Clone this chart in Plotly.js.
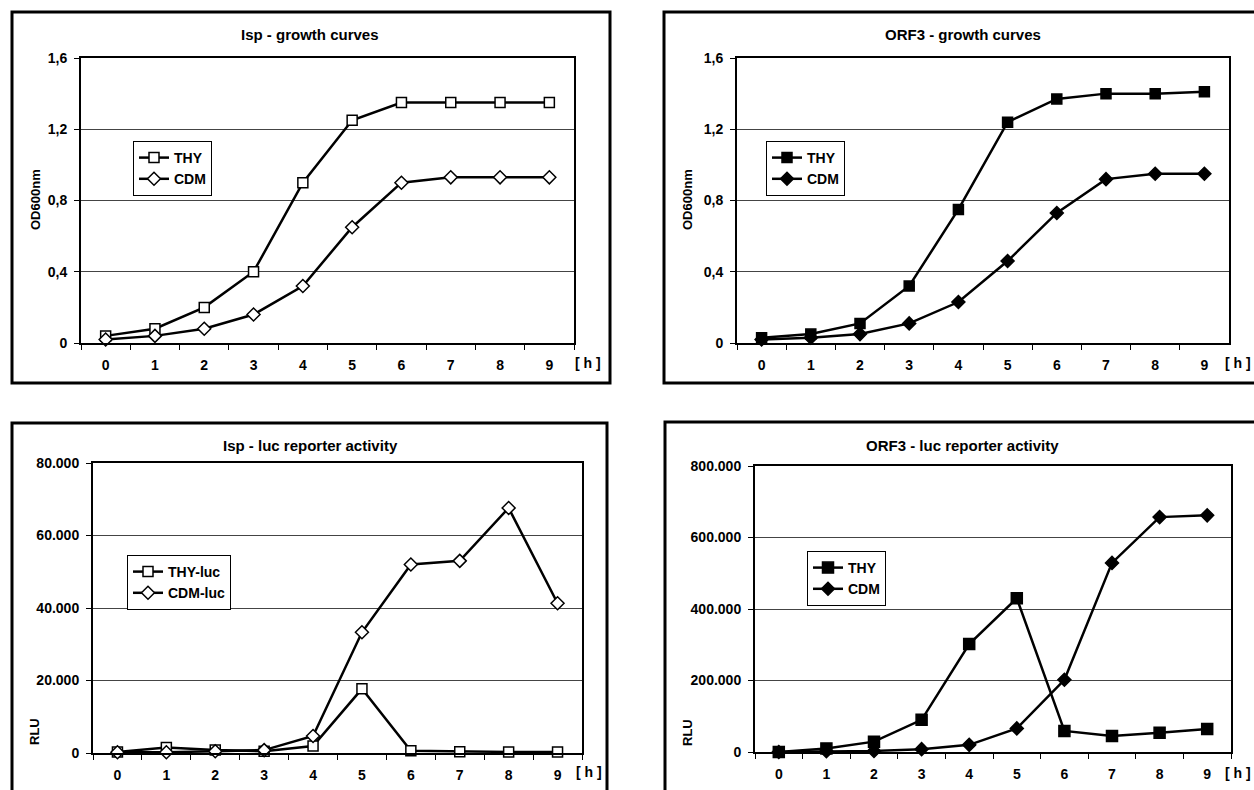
<!DOCTYPE html>
<html>
<head>
<meta charset="utf-8">
<script src="https://cdn.plot.ly/plotly-3.0.1.min.js"></script>
<style>
  html, body { margin: 0; padding: 0; background: #ffffff; }
  #chart { width: 1254px; height: 790px; }
</style>
</head>
<body>
<div id="chart"></div>
<script>
// ---------- DATA ----------
const hours = ['0', '1', '2', '3', '4', '5', '6', '7', '8', '9'];

// Isp - growth curves (OD600nm)
const ispGrowthTHY = [0.04, 0.08, 0.20, 0.40, 0.90, 1.25, 1.35, 1.35, 1.35, 1.35];
const ispGrowthCDM = [0.02, 0.04, 0.08, 0.16, 0.32, 0.65, 0.90, 0.93, 0.93, 0.93];

// ORF3 - growth curves (OD600nm)
const orf3GrowthTHY = [0.03, 0.05, 0.11, 0.32, 0.75, 1.24, 1.37, 1.40, 1.40, 1.41];
const orf3GrowthCDM = [0.02, 0.03, 0.05, 0.11, 0.23, 0.46, 0.73, 0.92, 0.95, 0.95];

// Isp - luc reporter activity (RLU)
const ispLucTHY = [300, 1500, 800, 500, 1900, 17700, 600, 350, 300, 300];
const ispLucCDM = [200, 200, 500, 800, 4700, 33300, 52000, 53000, 67600, 41300];

// ORF3 - luc reporter activity (RLU)
const orf3LucTHY = [0, 10000, 29000, 90000, 302000, 430000, 59000, 45000, 54000, 64000];
const orf3LucCDM = [0, 2000, 3000, 8000, 20000, 66000, 202000, 529000, 657000, 662000];

const panelTitles = ['Isp - growth curves', 'ORF3 - growth curves',
                     'Isp - luc reporter activity', 'ORF3 - luc reporter activity'];
const growthYLabel = 'OD600nm';
const lucYLabel = 'RLU';
const hourUnit = '[ h ]';

// ---------- STYLE HELPERS ----------
const W = 1254, H = 790;
const px = x => x / W;
const py = y => 1 - y / H;
const FONT = 'Liberation Sans, Arial, Helvetica, sans-serif';

function trace(y, name, symbol, filled, xa, ya, legend, size) {
  return {
    type: 'scatter', mode: 'lines+markers',
    x: hours, y: y, name: name,
    xaxis: xa, yaxis: ya, legend: legend,
    line: { color: '#000', width: 2.5 },
    marker: {
      symbol: symbol, size: size,
      color: filled ? '#000' : '#fff',
      line: { color: '#000', width: 1.5 }
    },
    cliponaxis: false
  };
}

const data = [
  trace(ispGrowthTHY, 'THY', 'square', false, 'x', 'y', 'legend', 10),
  trace(ispGrowthCDM, 'CDM', 'diamond', false, 'x', 'y', 'legend', 10),
  trace(orf3GrowthTHY, 'THY', 'square', true, 'x2', 'y2', 'legend2', 10),
  trace(orf3GrowthCDM, 'CDM', 'diamond', true, 'x2', 'y2', 'legend2', 10),
  trace(ispLucTHY, 'THY-luc', 'square', false, 'x3', 'y3', 'legend3', 10),
  trace(ispLucCDM, 'CDM-luc', 'diamond', false, 'x3', 'y3', 'legend3', 10),
  trace(orf3LucTHY, 'THY', 'square', true, 'x4', 'y4', 'legend4', 11),
  trace(orf3LucCDM, 'CDM', 'diamond', true, 'x4', 'y4', 'legend4', 10)
];

const tickFont = { family: FONT, size: 14, color: '#000', weight: 'bold' };

function xAxis(domain, anchor) {
  return {
    domain: domain, anchor: anchor, type: 'category',
    range: [-0.5, 9.5], fixedrange: true,
    showline: true, linecolor: '#000', linewidth: 2, mirror: true,
    ticks: 'outside', tickson: 'boundaries', ticklen: 5, tickwidth: 1, tickcolor: '#000',
    tickfont: tickFont, ticklabelstandoff: 8,
    showgrid: false, zeroline: false
  };
}
function yAxis(domain, anchor, range, dtick, fmt) {
  return {
    domain: domain, anchor: anchor, range: range, dtick: dtick, tick0: 0,
    tickformat: fmt, fixedrange: true,
    showline: true, linecolor: '#000', linewidth: 2, mirror: true,
    ticks: 'outside', ticklen: 5, tickwidth: 1, tickcolor: '#000',
    tickfont: tickFont, ticklabelstandoff: 4,
    showgrid: true, gridcolor: '#444', gridwidth: 1, zeroline: false
  };
}

const legendBase = {
  bgcolor: '#fff', bordercolor: '#000', borderwidth: 1,
  font: { family: FONT, size: 14, color: '#000', weight: 'bold' },
  xanchor: 'left', yanchor: 'top', itemwidth: 30, tracegroupgap: 0,
  traceorder: 'normal'
};

function ann(x, y, text, size, angle, xanchor) {
  return {
    xref: 'paper', yref: 'paper', x: px(x), y: py(y), text: text,
    showarrow: false, xanchor: xanchor || 'center', yanchor: 'middle',
    textangle: angle || 0,
    font: { family: FONT, size: size, color: '#000', weight: 'bold' }
  };
}

function frame(x0, y0, x1, y1) {
  return {
    type: 'rect', xref: 'paper', yref: 'paper',
    x0: px(x0), x1: px(x1), y0: py(y0), y1: py(y1),
    line: { color: '#000', width: 3 }, fillcolor: 'rgba(0,0,0,0)', layer: 'below'
  };
}

const layout = {
  width: W, height: H,
  margin: { l: 0, r: 0, t: 0, b: 0 },
  paper_bgcolor: '#fff', plot_bgcolor: '#fff',
  separators: ',.',
  font: { family: FONT, color: '#000' },
  xaxis: xAxis([px(81), px(574)], 'y'),
  yaxis: yAxis([py(343), py(58)], 'x', [0, 1.6], 0.4, ''),
  xaxis2: xAxis([px(737), px(1229)], 'y2'),
  yaxis2: yAxis([py(343), py(58)], 'x2', [0, 1.6], 0.4, ''),
  xaxis3: xAxis([px(93), px(582)], 'y3'),
  yaxis3: yAxis([py(753), py(463)], 'x3', [0, 80000], 20000, ',d'),
  xaxis4: xAxis([px(755), px(1231)], 'y4'),
  yaxis4: yAxis([py(752), py(466)], 'x4', [0, 800000], 200000, ',d'),
  legend: Object.assign({}, legendBase, { x: px(133), y: py(141) }),
  legend2: Object.assign({}, legendBase, { x: px(766), y: py(141) }),
  legend3: Object.assign({}, legendBase, { x: px(127), y: py(555) }),
  legend4: Object.assign({}, legendBase, { x: px(807), y: py(551) }),
  annotations: [
    ann(310, 34, panelTitles[0], 15),
    ann(963, 34, panelTitles[1], 15),
    ann(310, 445, panelTitles[2], 15),
    ann(962, 445, panelTitles[3], 15),
    ann(35, 200, growthYLabel, 13, -90),
    ann(687, 200, growthYLabel, 13, -90),
    ann(34, 732, lucYLabel, 13, -90),
    ann(687, 733, lucYLabel, 13, -90),
    ann(588, 363, hourUnit, 14),
    ann(1253, 363, hourUnit, 14, 0, 'right'),
    ann(589, 772, hourUnit, 14),
    ann(1253, 773, hourUnit, 14, 0, 'right')
  ],
  shapes: [
    frame(12, 12, 610, 383),
    frame(664, 12, 1262, 383),
    frame(12, 423, 607, 800),
    frame(665, 422, 1262, 800)
  ]
};

Plotly.newPlot('chart', data, layout, { displayModeBar: false, staticPlot: true });
</script>
</body>
</html>
